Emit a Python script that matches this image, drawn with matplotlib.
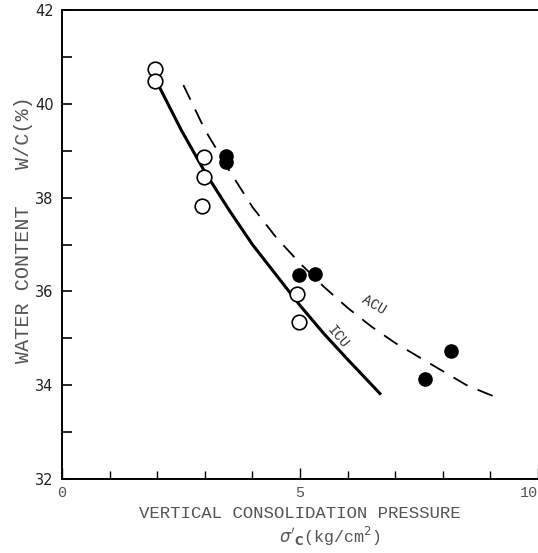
import matplotlib
matplotlib.use("Agg")
import matplotlib.pyplot as plt
from matplotlib.ticker import MultipleLocator

# ICU tests (open circles)
icu_pressure = [1.95, 1.95, 2.98, 2.98, 2.94, 4.94, 4.98]
icu_water = [40.74, 40.49, 38.87, 38.44, 37.82, 35.94, 35.35]

# ACU tests (filled circles)
acu_pressure = [3.45, 3.45, 4.98, 5.32, 7.63, 8.17]
acu_water = [38.88, 38.76, 36.35, 36.37, 34.13, 34.73]

# ICU curve (solid)
icu_curve_x = [2.05, 2.5, 3.0, 3.5, 4.0, 4.5, 5.0, 5.5, 6.0, 6.7]
icu_curve_y = [40.35, 39.45, 38.55, 37.75, 37.0, 36.35, 35.7, 35.1, 34.55, 33.8]

# ACU curve (dashed)
acu_curve_x = [2.55, 3.0, 3.5, 4.0, 4.5, 5.0, 5.5, 6.0, 6.5, 7.0, 7.5, 8.0, 8.5, 9.1]
acu_curve_y = [40.4, 39.45, 38.6, 37.8, 37.15, 36.6, 36.1, 35.65, 35.25, 34.9, 34.6, 34.3, 34.0, 33.75]

y_ticks = [32, 34, 36, 38, 40, 42]
x_ticks = [0, 5, 10]

W, H = 538, 553
fig = plt.figure(figsize=(W / 100, H / 100), dpi=100)
ax = fig.add_axes([62 / W, (H - 479) / H, 476 / W, 469 / H])

mono = "Liberation Mono"
txtcol = "#555555"

ax.plot(icu_curve_x, icu_curve_y, color="black", lw=2.2, solid_capstyle="butt")
ax.plot(acu_curve_x, acu_curve_y, color="black", lw=1.3, dashes=(9, 6))
ax.plot(icu_pressure, icu_water, "o", ms=10.5, mfc="white", mec="black", mew=1.2)
ax.plot(acu_pressure, acu_water, "o", ms=9.5, mfc="black", mec="black")

ax.set_xlim(0, 10)
ax.set_ylim(32, 42)
ax.set_yticks(y_ticks)
ax.set_yticklabels([str(v) for v in y_ticks], fontsize=10.5, color="#222222")
ax.yaxis.set_minor_locator(MultipleLocator(1))
ax.set_xticks(x_ticks)
labels = ax.set_xticklabels([str(v) for v in x_ticks], fontsize=11, color=txtcol,
                            family=mono)
labels[-1].set_ha("right")
ax.xaxis.set_minor_locator(MultipleLocator(1))
ax.tick_params(axis="y", which="both", direction="in", length=7, width=1.2, pad=6)
ax.tick_params(axis="x", which="major", direction="in", length=8, width=1.0, pad=5)
ax.tick_params(axis="x", which="minor", direction="in", length=6, width=1.0)

for s in ["left", "bottom", "top"]:
    ax.spines[s].set_linewidth(1.4)
ax.spines["right"].set_visible(False)

ax.text(6.55, 35.72, "ACU", rotation=-30, fontsize=10, family=mono, color="#333333",
        ha="center", va="center")
ax.text(5.8, 35.02, "ICU", rotation=-50, fontsize=10, family=mono, color="#333333",
        ha="center", va="center")

fig.text(300 / W, 1 - 514 / H, "VERTICAL CONSOLIDATION PRESSURE", fontsize=12.5,
         family=mono, color=txtcol, ha="center", va="center")
fig.text(330 / W, 1 - 536 / H, r"$\sigma'_{\mathbf{C}}$(kg/cm$^2$)", fontsize=12,
         family=mono, color=txtcol, ha="center", va="center")
fig.text(24 / W, 1 - 230 / H, "WATER CONTENT   W/C(%)", fontsize=14.5, family=mono,
         color=txtcol, rotation=90, ha="center", va="center")

fig.savefig("out.png", dpi=100)
